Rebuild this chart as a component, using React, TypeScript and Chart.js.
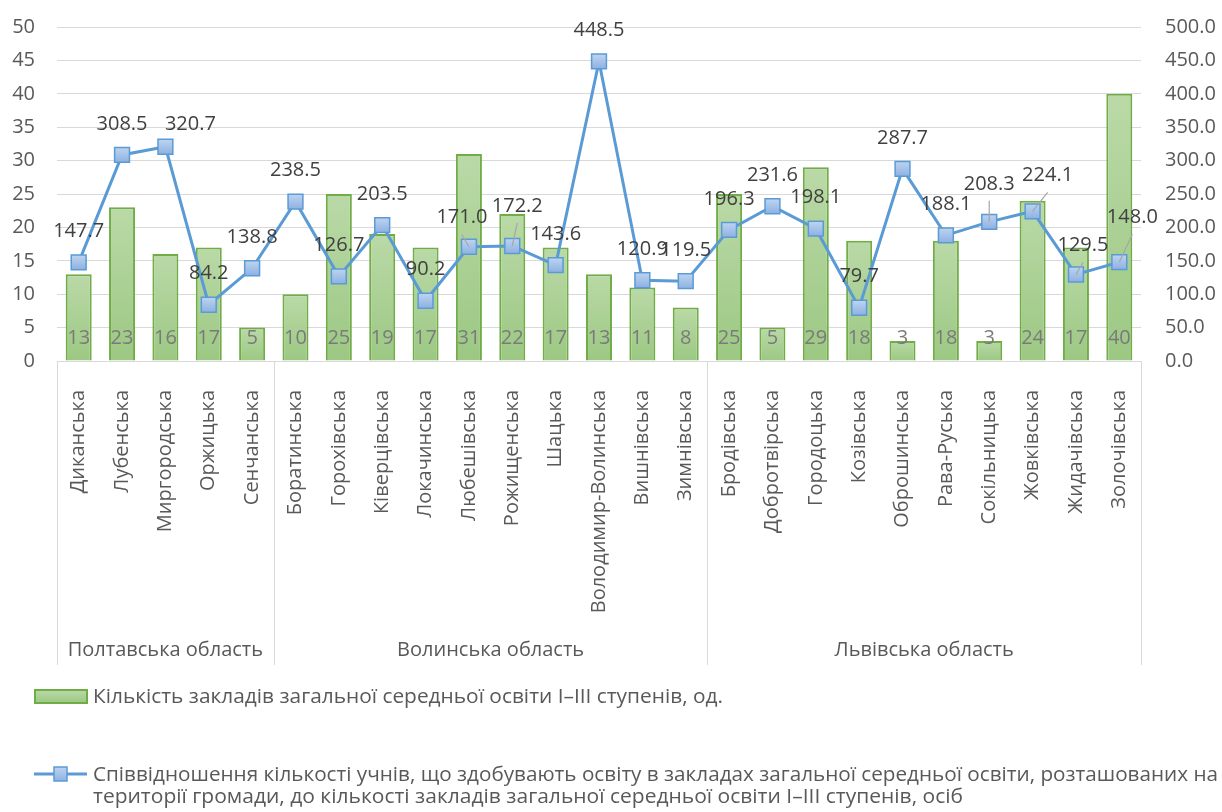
import React, { useEffect, useRef } from "react";
import { Chart, registerables } from "chart.js";

Chart.register(...registerables);

// ---------- data ----------
const communities = [
  "Диканська", "Лубенська", "Миргородська", "Оржицька", "Сенчанська",
  "Боратинська", "Горохівська", "Ківерцівська", "Локачинська", "Любешівська",
  "Рожищенська", "Шацька", "Володимир-Волинська", "Вишнівська", "Зимнівська",
  "Бродівська", "Добротвірська", "Городоцька", "Козівська", "Оброшинська",
  "Рава-Руська", "Сокільницька", "Жовківська", "Жидачівська", "Золочівська",
];
const schools = [13, 23, 16, 17, 5, 10, 25, 19, 17, 31, 22, 17, 13, 11, 8, 25, 5, 29, 18, 3, 18, 3, 24, 17, 40];
const ratio = [
  147.7, 308.5, 320.7, 84.2, 138.8, 238.5, 126.7, 203.5, 90.2, 171.0, 172.2, 143.6, 448.5,
  120.9, 119.5, 196.3, 231.6, 198.1, 79.7, 287.7, 188.1, 208.3, 224.1, 129.5, 148.0,
];
const regions = ["Полтавська область", "Волинська область", "Львівська область"];
const regionSizes = [5, 10, 10];
const leftMax = 50;
const leftStep = 5;
const rightMax = 500;
const rightStep = 50;
const barSeriesName = "Кількість закладів загальної середньої освіти I–III ступенів, од.";
const lineSeriesName = [
  "Співвідношення кількості учнів, що здобувають освіту в закладах загальної середньої освіти, розташованих на",
  "території громади, до кількості закладів загальної середньої освіти I–III ступенів, осіб",
];

// ---------- styling ----------
const FONT = "'Open Sans', 'Noto Sans', sans-serif";
const AXIS_COLOR = "#595959";
const GRID = "#d9d9d9";
const GREEN_BORDER = "#70ad47";
const BLUE = "#5b9bd5";
// label nudges (dx, dy) for manually moved data labels, and which get leader lines
const labelNudge: Record<number, [number, number]> = {
  2: [25, 9], 9: [-7, 2], 10: [5, -9], 21: [0, -7], 22: [15, -5], 23: [7, 2], 24: [13, -14],
};
const leaderIdx = [9, 10, 21, 22, 23, 24];

function greenGrad(ctx: CanvasRenderingContext2D, top: number, bottom: number) {
  const g = ctx.createLinearGradient(0, top, 0, bottom);
  g.addColorStop(0, "#bad9a7");
  g.addColorStop(1, "#9cc883");
  return g;
}
function blueGrad(ctx: CanvasRenderingContext2D, top: number, bottom: number) {
  const g = ctx.createLinearGradient(0, top, 0, bottom);
  g.addColorStop(0, "#bcd3f0");
  g.addColorStop(1, "#8fb2e2");
  return g;
}

function drawFitted(ctx: CanvasRenderingContext2D, text: string, x: number, y: number, width: number) {
  const w = ctx.measureText(text).width;
  ctx.save();
  ctx.translate(x, y);
  ctx.scale(width / w, 1);
  ctx.fillText(text, 0, 0);
  ctx.restore();
}

const overlayPlugin = {
  id: "overlay",
  afterDatasetsDraw(chart: any) {
    const ctx: CanvasRenderingContext2D = chart.ctx;
    const xs = chart.scales.x;
    const ys = chart.scales.y;
    const y1 = chart.scales.y1;
    ctx.save();
    // bar value labels (inside base)
    ctx.font = `20px ${FONT}`;
    ctx.fillStyle = "#7a7a7a";
    ctx.textAlign = "center";
    ctx.textBaseline = "middle";
    const base = ys.getPixelForValue(0);
    schools.forEach((v, i) => {
      ctx.fillText(String(v), xs.getPixelForValue(i), base - 23);
    });
    // line labels
    ratio.forEach((v, i) => {
      const px = xs.getPixelForValue(i);
      const py = y1.getPixelForValue(v);
      const n = labelNudge[i] || [0, 0];
      const lx = px + n[0];
      const ly = py - 31 + n[1];
      if (leaderIdx.includes(i)) {
        ctx.strokeStyle = "#a6a6a6";
        ctx.lineWidth = 1.2;
        ctx.beginPath();
        ctx.moveTo(lx, ly + 17);
        ctx.lineTo(px, py);
        ctx.stroke();
      }
      ctx.fillStyle = "#404040";
      ctx.fillText(v.toFixed(1), lx, ly);
    });
    ctx.restore();
  },
  afterDraw(chart: any) {
    const ctx: CanvasRenderingContext2D = chart.ctx;
    const xs = chart.scales.x;
    const area = chart.chartArea;
    const bottom = area.bottom + 304;
    ctx.save();
    // region separators
    const bounds: number[] = [area.left];
    let k = 0;
    regionSizes.forEach((s) => {
      k += s;
      bounds.push(k >= communities.length ? area.right : (xs.getPixelForValue(k - 1) + xs.getPixelForValue(k)) / 2);
    });
    ctx.strokeStyle = GRID;
    ctx.lineWidth = 1;
    bounds.forEach((b) => {
      const bx = Math.round(b) + 0.5;
      ctx.beginPath();
      ctx.moveTo(bx, area.bottom);
      ctx.lineTo(bx, bottom);
      ctx.stroke();
    });
    // region labels
    ctx.font = `20px ${FONT}`;
    ctx.fillStyle = AXIS_COLOR;
    ctx.textAlign = "center";
    ctx.textBaseline = "middle";
    regions.forEach((r, i) => {
      ctx.fillText(r, (bounds[i] + bounds[i + 1]) / 2, bottom - 15);
    });
    // legend: bars
    ctx.fillStyle = greenGrad(ctx, 690, 703);
    ctx.fillRect(35, 690, 52, 13);
    ctx.strokeStyle = GREEN_BORDER;
    ctx.lineWidth = 2;
    ctx.strokeRect(35, 690, 52, 13);
    ctx.font = `20px ${FONT}`;
    ctx.fillStyle = AXIS_COLOR;
    ctx.textAlign = "left";
    ctx.textBaseline = "middle";
    drawFitted(ctx, barSeriesName, 93, 697, 630);
    // legend: line
    ctx.strokeStyle = BLUE;
    ctx.lineWidth = 3;
    ctx.beginPath();
    ctx.moveTo(34, 774);
    ctx.lineTo(87, 774);
    ctx.stroke();
    ctx.fillStyle = blueGrad(ctx, 767, 781);
    ctx.fillRect(54, 767, 13, 14);
    ctx.lineWidth = 1.5;
    ctx.strokeRect(54, 767, 13, 14);
    ctx.fillStyle = AXIS_COLOR;
    drawFitted(ctx, lineSeriesName[0], 93, 775, 1125);
    drawFitted(ctx, lineSeriesName[1], 93, 797, 870);
    ctx.restore();
  },
};

export default function App() {
  const ref = useRef<HTMLCanvasElement | null>(null);
  useEffect(() => {
    if (!ref.current) return;
    const chart = new Chart(ref.current, {
      type: "bar",
      data: {
        labels: communities,
        datasets: [
          {
            type: "line",
            label: lineSeriesName.join(" "),
            data: ratio,
            yAxisID: "y1",
            order: 0,
            borderColor: BLUE,
            borderWidth: 3,
            pointStyle: "rect",
            pointRadius: 10.5,
            pointBorderWidth: 1.5,
            pointBorderColor: BLUE,
            pointBackgroundColor: (c: any) => {
              const s = c.chart.scales.y1;
              if (!s || c.type !== "data") return "#a8c4ea";
              const py = s.getPixelForValue(c.raw);
              if (!isFinite(py)) return "#a8c4ea";
              return blueGrad(c.chart.ctx, py - 7, py + 7);
            },
            tension: 0,
          } as any,
          {
            type: "bar",
            label: barSeriesName,
            data: schools,
            yAxisID: "y",
            order: 1,
            borderColor: GREEN_BORDER,
            borderWidth: 2,
            barPercentage: 0.6,
            categoryPercentage: 1,
            backgroundColor: (c: any) => {
              const s = c.chart.scales.y;
              if (!s || c.type !== "data") return "#a9d18e";
              const top = s.getPixelForValue(c.raw);
              const base = s.getPixelForValue(0);
              if (!isFinite(top) || !isFinite(base)) return "#a9d18e";
              return greenGrad(c.chart.ctx, top, base);
            },
          },
        ],
      },
      options: {
        responsive: false,
        animation: false,
        layout: { padding: { top: 27, bottom: 147, left: 0, right: 0 } },
        plugins: { legend: { display: false }, tooltip: { enabled: false } },
        scales: {
          x: {
            grid: { display: false },
            border: { display: false },
            ticks: {
              autoSkip: false,
              minRotation: 90,
              maxRotation: 90,
              padding: 21,
              color: AXIS_COLOR,
              font: { family: FONT, size: 20 },
            },
            afterFit: (s: any) => { s.height = 304; },
          },
          y: {
            position: "left",
            min: 0,
            max: leftMax,
            ticks: { stepSize: leftStep, padding: 0, color: AXIS_COLOR, font: { family: FONT, size: 20 } },
            grid: { color: GRID, lineWidth: 1, drawTicks: true, tickLength: 22, tickColor: "rgba(0,0,0,0)" },
            border: { display: false },
            afterFit: (s: any) => { s.width = 57; },
          },
          y1: {
            position: "right",
            min: 0,
            max: rightMax,
            ticks: {
              stepSize: rightStep,
              padding: 0,
              color: AXIS_COLOR,
              font: { family: FONT, size: 20 },
              callback: (v: any) => Number(v).toFixed(1),
            },
            grid: { display: true, drawOnChartArea: false, drawTicks: true, tickLength: 24, tickColor: "rgba(0,0,0,0)" },
            border: { display: false },
            afterFit: (s: any) => { s.width = 81; },
          },
        },
      },
      plugins: [overlayPlugin],
    });
    return () => chart.destroy();
  }, []);
  return (
    <div style={{ position: "absolute", left: 0, top: 0, width: 1222, height: 812, background: "#fff" }}>
      <canvas ref={ref} width={1222} height={812} style={{ display: "block" }} />
    </div>
  );
}
